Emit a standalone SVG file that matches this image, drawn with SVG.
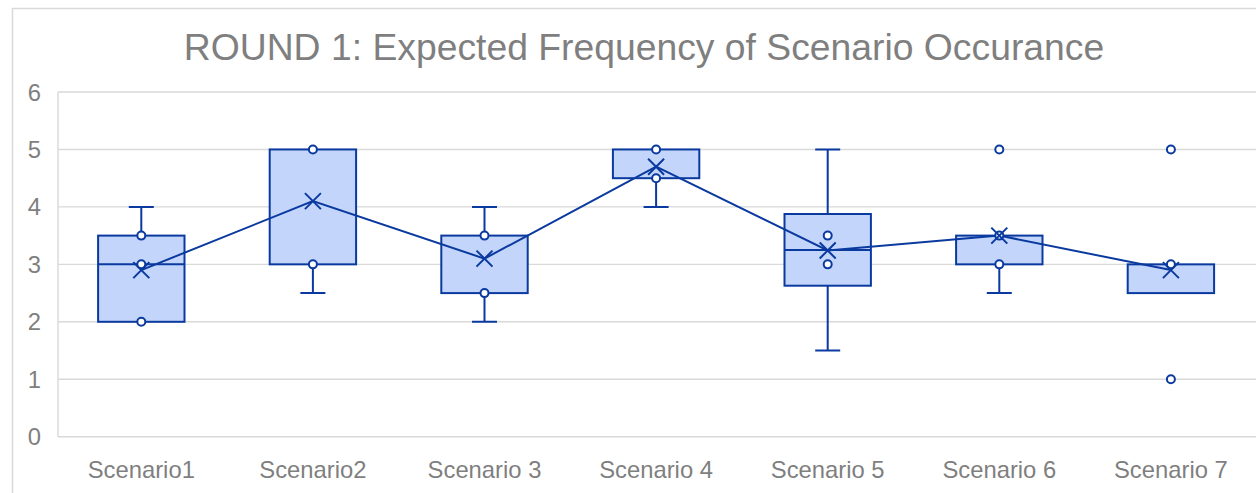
<svg xmlns="http://www.w3.org/2000/svg" width="1256" height="493" viewBox="0 0 1256 493">
<style>
.grid{stroke:#d9d9d9;stroke-width:1.4;fill:none}
.ax{font-family:"Liberation Sans",Arial,sans-serif;font-size:23.8px;fill:#7f7f7f}
.title{font-family:"Liberation Sans",Arial,sans-serif;font-size:37.3px;fill:#7f7f7f}
.box{fill:#c3d5fb;stroke:#0a3a9f;stroke-width:2}
.ln{stroke:#0a3a9f;stroke-width:2;fill:none}
.pt{fill:#fff;stroke:#0a3a9f;stroke-width:2}
</style>
<defs>
<g id="xm"><path d="M-8,-8L8,8M-8,8L8,-8" class="ln"/></g>
<circle id="dot" r="4" class="pt"/>
</defs>
<rect x="0" y="0" width="1256" height="493" fill="#fff"/>
<rect x="12.5" y="8.5" width="1260" height="500" fill="none" stroke="#d9d9d9" stroke-width="1.5"/>
<text class="title" x="644" y="60" text-anchor="middle">ROUND 1: Expected Frequency of Scenario Occurance</text>
<g id="grid">
<path class="grid" d="M58,92H1256M58,149.45H1256M58,206.9H1256M58,264.35H1256M58,321.8H1256M58,379.25H1256M58,436.7H1256M58,92V436.7"/>
</g>
<g id="yaxis" class="ax" text-anchor="end">
<text x="41" y="100.5">6</text>
<text x="41" y="158">5</text>
<text x="41" y="215.4">4</text>
<text x="41" y="272.9">3</text>
<text x="41" y="330.3">2</text>
<text x="41" y="387.8">1</text>
<text x="41" y="445.2">0</text>
</g>
<g id="xaxis" class="ax" text-anchor="middle">
<text x="141.3" y="478">Scenario1</text>
<text x="312.9" y="478">Scenario2</text>
<text x="484.5" y="478">Scenario 3</text>
<text x="656.1" y="478">Scenario 4</text>
<text x="827.7" y="478">Scenario 5</text>
<text x="999.3" y="478">Scenario 6</text>
<text x="1170.9" y="478">Scenario 7</text>
</g>
<g id="scenario1">
<path class="ln" d="M141.3,235.6V206.9M128.8,206.9H153.8"/>
<rect class="box" x="98.1" y="235.6" width="86.4" height="86.2"/>
<path class="ln" d="M98.1,264.35H184.5"/>
</g>
<g id="scenario2">
<path class="ln" d="M312.9,264.35V293.1M300.4,293.1H325.4"/>
<rect class="box" x="269.7" y="149.45" width="86.4" height="114.9"/>
</g>
<g id="scenario3">
<path class="ln" d="M484.5,235.6V206.9M472,206.9H497M484.5,293.1V321.8M472,321.8H497"/>
<rect class="box" x="441.3" y="235.6" width="86.4" height="57.5"/>
</g>
<g id="scenario4">
<path class="ln" d="M656.1,178.2V206.9M643.6,206.9H668.6"/>
<rect class="box" x="612.9" y="149.45" width="86.4" height="28.75"/>
</g>
<g id="scenario5">
<path class="ln" d="M827.7,214V149.45M815.2,149.45H840.2M827.7,285.7V350.5M815.2,350.5H840.2"/>
<rect class="box" x="784.5" y="214" width="86.4" height="71.7"/>
<path class="ln" d="M784.5,250H870.9"/>
</g>
<g id="scenario6">
<path class="ln" d="M999.3,264.35V293.1M986.8,293.1H1011.8"/>
<rect class="box" x="956.1" y="235.6" width="86.4" height="28.75"/>
</g>
<g id="scenario7">
<rect class="box" x="1127.7" y="264.35" width="86.4" height="28.75"/>
</g>
<g id="connectors">
<polyline class="ln" points="141.3,270.1 312.9,201.1 484.5,258.6 656.1,166.7 827.7,250.5 999.3,235.6 1170.9,270.1"/>
</g>
<g id="markers">
<use href="#dot" x="141.3" y="235.6"/><use href="#dot" x="141.3" y="264.35"/><use href="#dot" x="141.3" y="321.8"/>
<use href="#xm" x="141.3" y="270.1"/>
<use href="#dot" x="312.9" y="149.45"/><use href="#dot" x="312.9" y="264.35"/>
<use href="#xm" x="312.9" y="201.1"/>
<use href="#dot" x="484.5" y="235.6"/><use href="#dot" x="484.5" y="293.1"/>
<use href="#xm" x="484.5" y="258.6"/>
<use href="#dot" x="656.1" y="149.45"/><use href="#dot" x="656.1" y="178.2"/>
<use href="#xm" x="656.1" y="166.7"/>
<use href="#dot" x="827.7" y="235.6"/><use href="#dot" x="827.7" y="264.35"/>
<use href="#xm" x="827.7" y="250.5"/>
<use href="#dot" x="999.3" y="235.6"/><use href="#dot" x="999.3" y="264.35"/><use href="#dot" x="999.3" y="149.45"/>
<use href="#xm" x="999.3" y="235.6"/>
<use href="#dot" x="1170.9" y="264.35"/><use href="#dot" x="1170.9" y="149.45"/><use href="#dot" x="1170.9" y="379.25"/>
<use href="#xm" x="1170.9" y="270.1"/>
</g>
</svg>
